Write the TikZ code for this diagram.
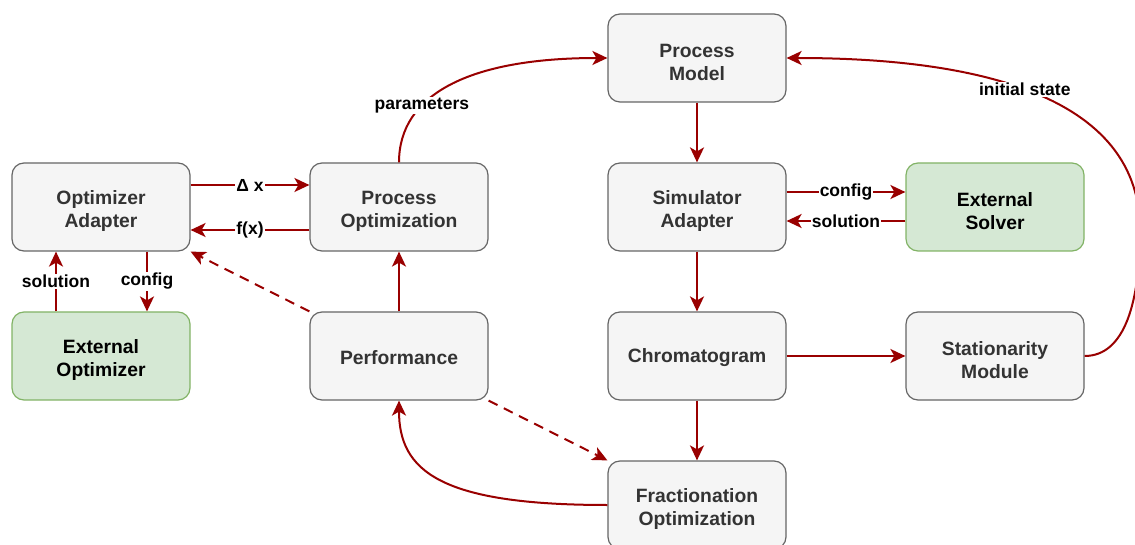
\documentclass[tikz,border=0pt]{standalone}
\usepackage{fontspec}
\setmainfont{Liberation Sans}
\usetikzlibrary{arrows.meta}

\definecolor{arrowred}{HTML}{990000}
\definecolor{boxfill}{HTML}{F5F5F5}
\definecolor{boxline}{HTML}{666666}
\definecolor{boxtext}{HTML}{333333}
\definecolor{extfill}{HTML}{D5E8D4}
\definecolor{extline}{HTML}{82B366}

\tikzset{
  boxbase/.style={draw=boxline, fill=boxfill, text=boxtext, line width=1.2pt,
    rounded corners=12pt, minimum width=178pt, minimum height=88pt, align=center,
    font=\bfseries\fontsize{19.3}{22.7}\selectfont},
  box/.style={boxbase, execute at begin node={\rule{0pt}{45pt}}},
  onebox/.style={boxbase, execute at begin node={\rule{0pt}{18pt}}},
  extbox/.style={box, draw=extline, fill=extfill, text=black},
  flow/.style={draw=arrowred, line width=2pt, -{Stealth[length=15pt,width=14pt,inset=4pt]}},
  lbl/.style={fill=white, text=black, inner sep=1pt, font=\bfseries\fontsize{17.5}{20}\selectfont},
}

\begin{document}
\begin{tikzpicture}[x=1pt, y=-1pt]

\clip (0,0) rectangle (1135,545);

\node [box]    (optad)   at (101, 207) {Optimizer\\Adapter};
\node [box]    (procopt) at (399, 207) {Process\\Optimization};
\node [box]    (procmod) at (697, 58)  {Process\\Model};
\node [box]    (simad)   at (697, 207) {Simulator\\Adapter};
\node [extbox] (extsol)  at (995, 207) {External\\Solver};
\node [extbox] (extopt)  at (101, 356) {External\\Optimizer};
\node [onebox] (perf)    at (399, 356) {Performance};
\node [onebox] (chrom)   at (697, 356) {Chromatogram};
\node [box]    (stat)    at (995, 356) {Stationarity\\Module};
\node [box]    (frac)    at (697, 505) {Fractionation\\Optimization};

\coordinate (bend) at (1140, 230);

% -------- straight arrows -----------
\draw [flow] ([yshift=22pt]optad.east) -- node [lbl] {Δ x} ([yshift=22pt]procopt.west);
\draw [flow] ([yshift=-23pt]procopt.west) -- node [lbl] {f(x)} ([yshift=-23pt]optad.east);
\draw [flow] ([xshift=-45pt]extopt.north) -- node [lbl] {solution} ([xshift=-45pt]optad.south);
\draw [flow] ([xshift=46pt]optad.south) -- node [lbl] {config} ([xshift=46pt]extopt.north);
\draw [flow] (perf) -- (procopt);
\draw [flow] (procmod) -- (simad);
\draw [flow] ([yshift=15pt]simad.east) -- node [lbl] {config} ([yshift=15pt]extsol.west);
\draw [flow] ([yshift=-14pt]extsol.west) -- node [lbl] {solution} ([yshift=-14pt]simad.east);
\draw [flow] (simad) -- (chrom);
\draw [flow] (chrom) -- (stat);
\draw [flow] (chrom) -- (frac);

\draw [flow, dashed, dash pattern=on 10pt off 7pt] (perf.north west) -- (optad.south east);
\draw [flow, dashed, dash pattern=on 10pt off 7pt] (perf.south east) -- (frac.north west);

% -------- curved arrows -----------
\draw [flow] (procopt.north) .. controls +(0,-68) and +(-138,0) .. node [lbl, pos=0.33] {parameters} (procmod.west);
\draw [flow] (stat.east) .. controls +(41,0) and +(0,70) .. (bend)
  .. controls +(0,-145) and +(164,0) .. node [lbl, pos=0.5] {initial state} (procmod.east);
\draw [flow] (frac.west) .. controls +(-168,0) and +(0,70) .. (perf.south);

\end{tikzpicture}
\end{document}
